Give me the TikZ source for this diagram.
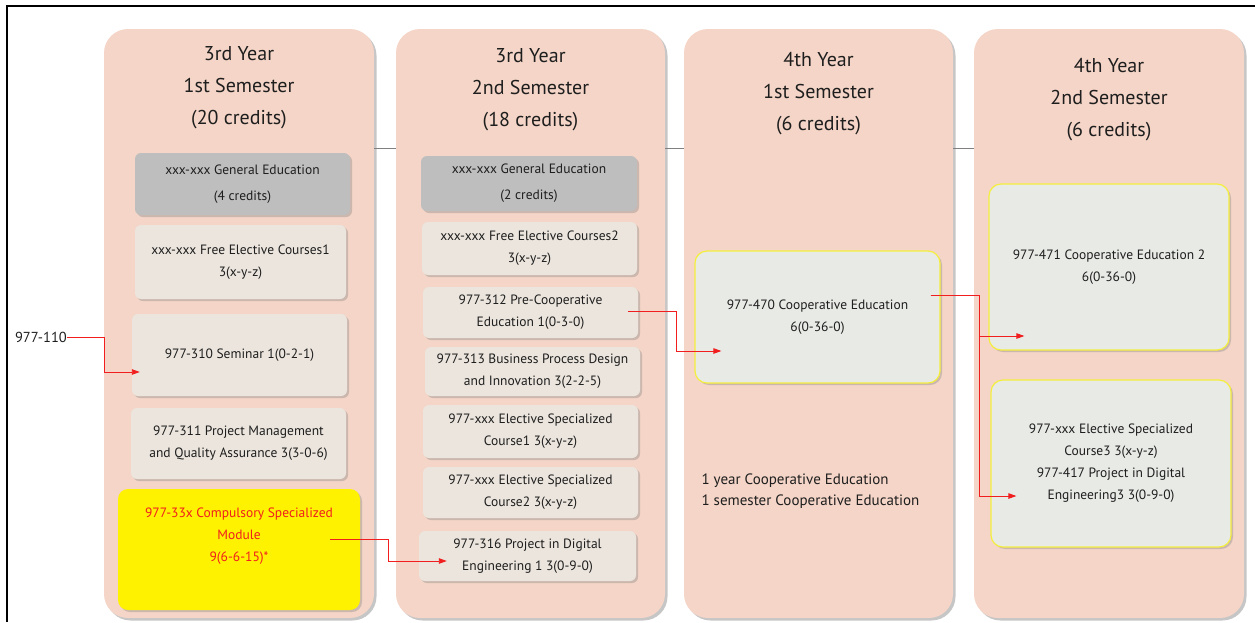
\documentclass[tikz,border=0pt]{standalone}
\usepackage{fontspec}
\setmainfont{PT Sans}
\usetikzlibrary{arrows.meta,shadows}

\definecolor{panelpink}{HTML}{F4D5C7}
\definecolor{gengray}{HTML}{BEBEBE}
\definecolor{coursebeige}{HTML}{EBE5DD}
\definecolor{coopfill}{HTML}{E8EAE6}
\definecolor{coopedge}{HTML}{F4EE3C}
\definecolor{linkred}{HTML}{F01E1E}
\definecolor{inkgray}{HTML}{1E1E1E}

\tikzset{
	panel/.style={fill=panelpink, rounded corners=24pt, inner sep=0pt,
		drop shadow={shadow xshift=2.5pt, shadow yshift=-2.5pt, opacity=0.45}},
	title/.style={align=center, text=inkgray, font=\fontsize{20}{32}\selectfont},
	course/.style={fill=coursebeige, rounded corners=6pt, inner sep=0pt, align=center,
		text=inkgray, font=\fontsize{13.5}{22}\selectfont,
		drop shadow={shadow xshift=2pt, shadow yshift=-2pt, opacity=0.35}},
	gencourse/.style={course, fill=gengray, font=\fontsize{13.5}{26}\selectfont},
	coopbox/.style={course, fill=coopfill, draw=coopedge, line width=1.2pt, rounded corners=12pt},
	modbox/.style={course, fill=yellow, rounded corners=10pt},
	link/.style={draw=linkred, line width=0.9pt, -{Triangle[length=8pt,width=5.5pt]}},
	sepline/.style={draw=gray, line width=0.7pt}
}

\begin{document}
\begin{tikzpicture}[x=1pt, y=-1pt]
	\useasboundingbox (0,0) rectangle (1255,622);
	% frame
	\draw[line width=2pt] (7,622) -- (7,6) -- (1255,6);

	% semester panels
	\node[panel, minimum width=270, minimum height=589] (p1) at (239,323.5) {};
	\node[panel, minimum width=269, minimum height=589] (p2) at (530.5,323.5) {};
	\node[panel, minimum width=269, minimum height=589] (p3) at (818.5,323.5) {};
	\node[panel, minimum width=270, minimum height=589] (p4) at (1109,323.5) {};
	\foreach \a/\b in {p1/p2,p2/p3,p3/p4}
		\draw[sepline] (\a.east |- 0,148) -- (\b.west |- 0,148);

	\node[title] (t1) at (239,87.5) {3rd Year\\1st Semester\\(20 credits)};
	\node[title] (t2) at (530.5,89.5) {3rd Year\\2nd Semester\\(18 credits)};
	\node[title] (t3) at (818.5,93.5) {4th Year\\1st Semester\\(6 credits)};
	\node[title] (t4) at (1109,99.5) {4th Year\\2nd Semester\\(6 credits)};

	% 3rd year, 1st semester
	\node[gencourse, minimum width=215, minimum height=62] (ge1) at (242.5,184) {xxx-xxx General Education\\(4 credits)};
	\node[course, minimum width=211, minimum height=74] (fe1) at (240.5,262) {xxx-xxx Free Elective Courses1\\3(x-y-z)};
	\node[course, minimum width=215, minimum height=82] (sem) at (239.5,355) {977-310 Seminar 1(0-2-1)};
	\node[course, minimum width=215, minimum height=71] (pm) at (238.5,443.5) {977-311 Project Management\\and Quality Assurance 3(3-0-6)};
	\node[modbox, minimum width=242, minimum height=121] (mod) at (239,549.5) {};
	\node[align=center, text=linkred, font=\fontsize{13.5}{22}\selectfont] (modtxt) at (239,536)
		{977-33x Compulsory Specialized\\Module\\9(6-6-15)*};

	% 3rd year, 2nd semester
	\node[gencourse, minimum width=216, minimum height=55] (ge2) at (529,183.5) {xxx-xxx General Education\\(2 credits)};
	\node[course, minimum width=215, minimum height=53] (fe2) at (529.5,248.5) {xxx-xxx Free Elective Courses2\\3(x-y-z)};
	\node[course, minimum width=215, minimum height=51] (pre) at (530.5,312.5) {977-312 Pre-Cooperative\\Education 1(0-3-0)};
	\node[course, minimum width=215, minimum height=49] (bpd) at (532.5,371.5) {977-313 Business Process Design\\and Innovation 3(2-2-5)};
	\node[course, minimum width=215, minimum height=53] (es1) at (530.5,431.5) {977-xxx Elective Specialized\\Course1 3(x-y-z)};
	\node[course, minimum width=215, minimum height=51] (es2) at (530.5,492.5) {977-xxx Elective Specialized\\Course2 3(x-y-z)};
	\node[course, minimum width=217, minimum height=50] (pd1) at (527.5,556) {977-316 Project in Digital\\Engineering 1 3(0-9-0)};

	% 4th year, 1st semester
	\node[coopbox, minimum width=245, minimum height=132] (coop) at (817.5,317) {977-470 Cooperative Education\\6(0-36-0)};
	\node[anchor=west, align=left, text=inkgray, font=\fontsize{15}{21}\selectfont] (note) at (698,491)
		{1 year Cooperative Education\\1 semester Cooperative Education};

	% 4th year, 2nd semester
	\node[coopbox, minimum width=240, minimum height=166] (coop2) at (1109,267) {977-471 Cooperative Education 2\\6(0-36-0)};
	\node[coopbox, minimum width=240, minimum height=167] (es3) at (1111,463.5)
		{977-xxx Elective Specialized\\Course3 3(x-y-z)\\977-417 Project in Digital\\Engineering3 3(0-9-0)};

	% prerequisite links
	\node[anchor=east, inner sep=0pt, text=inkgray, font=\fontsize{14.5}{16}\selectfont] (c110) at (67,337) {977-110};
	\coordinate (semin) at ([shift={(8pt,-17pt)}]sem.west);
	\coordinate (modout) at ([shift={(91pt,10.5pt)}]mod.center);
	\coordinate (pd1in) at ([shift={(28pt,-5pt)}]pd1.west);
	\coordinate (preout) at ([shift={(-10pt,1.5pt)}]pre.east);
	\coordinate (coopin) at ([shift={(27pt,-34pt)}]coop.west);
	\coordinate (coopout) at ([shift={(-10pt,22pt)}]coop.east);
	\coordinate (coop2in) at ([shift={(36pt,-69pt)}]coop2.west);
	\coordinate (es3in) at ([shift={(26pt,-32.5pt)}]es3.west);

	\draw[link] (c110.east) -- ++(37,0) |- (semin);
	\draw[link] (modout) -- ++(58,0) |- (pd1in);
	\draw[link] (preout) -- ++(48,0) |- (coopin);
	\draw[link] (coopout) -- ++(49,0) |- (coop2in);
	\draw[link] (coopout) -- ++(49,0) |- (es3in);
\end{tikzpicture}
\end{document}
